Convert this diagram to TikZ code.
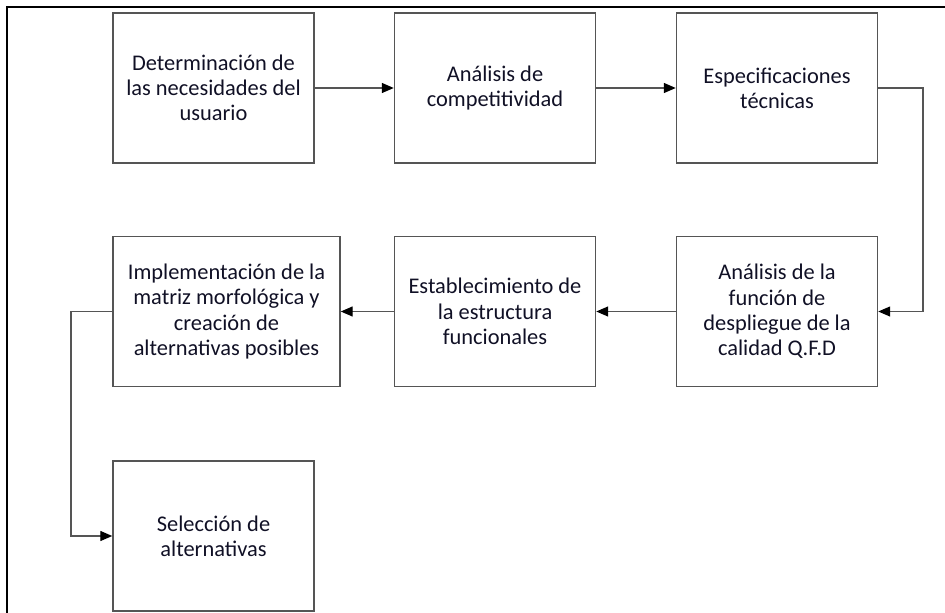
\documentclass[tikz,border=0pt]{standalone}
\usepackage{fontspec}
\setmainfont{Carlito}
\usetikzlibrary{arrows.meta}
\definecolor{boxline}{HTML}{555555}
\definecolor{txt}{HTML}{101025}
\tikzset{
  stepbox/.style={draw=boxline, line width=1.1pt, inner sep=0pt, align=center,
    minimum width=#1, minimum height=112.5pt, text=txt,
    font=\fontsize{16.8}{18.9}\selectfont},
  stepbox/.default=150.75pt,
  conn/.style={draw=boxline, line width=1pt},
  arr/.style={conn, -{Triangle[length=9pt,width=7.5pt,fill=black,color=black]}}
}
\begin{document}
\begin{tikzpicture}[x=0.75pt,y=-0.75pt]
\useasboundingbox (0,0) rectangle (945,613);
\draw[line width=1.6pt, black] (7,616) -- (7,7) -- (948,7);

\node[stepbox] (b1) at (213.5,88) {Determinación de\\las necesidades del\\usuario};
\node[stepbox] (b2) at (495,88) {Análisis de\\competitividad};
\node[stepbox] (b3) at (777,88) {Especificaciones\\técnicas};
\node[stepbox] (b4) at (777,311.5) {Análisis de la\\función de\\despliegue de la\\calidad Q.F.D};
\node[stepbox] (b5) at (495,311.5) {Establecimiento de\\la estructura\\funcionales};
\node[stepbox=170.25pt] (b6) at (226.5,311.5) {Implementación de la\\matriz morfológica y\\creación de\\alternativas posibles};
\node[stepbox] (b7) at (213.5,536) {Selección de\\alternativas};

\coordinate (r1) at (923,88);
\coordinate (r2) at (923,311.5);
\coordinate (l1) at (71,311.5);

\draw[arr] (b1) -- (b2);
\draw[arr] (b2) -- (b3);
\draw[arr] (b3.east) -- (r1) -- (r2) -- (b4.east);
\draw[arr] (b4) -- (b5);
\draw[arr] (b5) -- (b6);
\draw[arr] (b6.west) -- (l1) |- (b7.west);
\end{tikzpicture}
\end{document}
